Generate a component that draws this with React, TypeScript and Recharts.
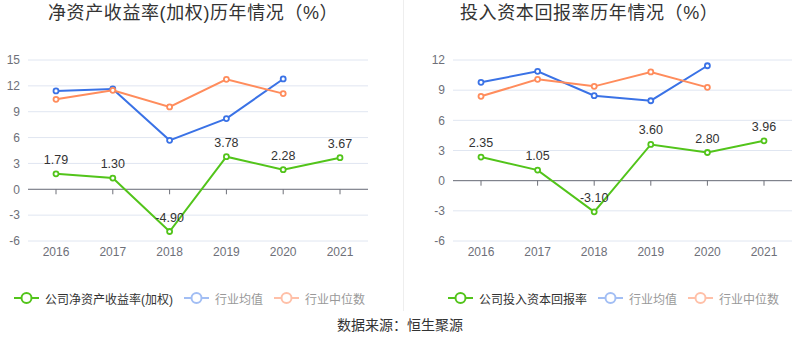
import React from "react"
import {
  LineChart,
  Line,
  XAxis,
  YAxis,
  CartesianGrid,
  ReferenceLine,
  LabelList,
} from "recharts"

const years = ["2016", "2017", "2018", "2019", "2020", "2021"]

// 净资产收益率(加权)
const roeCompany = [1.79, 1.3, -4.9, 3.78, 2.28, 3.67]
const roeMean = [11.41, 11.64, 5.68, 8.2, 12.8, null]
const roeMedian = [10.44, 11.48, 9.55, 12.76, 11.1, null]
const roeTicks = [-6, -3, 0, 3, 6, 9, 12, 15]

// 投入资本回报率
const roicCompany = [2.35, 1.05, -3.1, 3.6, 2.8, 3.96]
const roicMean = [9.78, 10.87, 8.45, 7.95, 11.43, null]
const roicMedian = [8.39, 10.08, 9.38, 10.81, 9.28, null]
const roicTicks = [-6, -3, 0, 3, 6, 9, 12]

const GREEN = "#52c41a"
const BLUE = "#3a72e6"
const ORANGE = "#ff8c5c"
const AXIS = "#6e7079"
const FONT = '"Liberation Sans", Arial, "Noto Sans CJK SC", sans-serif'

function buildRows(company: number[], mean: (number | null)[], median: (number | null)[]) {
  return years.map((year, i) => ({
    year,
    company: company[i],
    mean: mean[i],
    median: median[i],
  }))
}

interface LegendItem {
  label: string
  color: string
  textColor: string
}

function LegendRow({ items, left }: { items: LegendItem[]; left: number }) {
  return (
    <div
      style={{
        position: "absolute",
        left,
        top: 290,
        display: "flex",
        alignItems: "center",
        fontSize: 12,
        height: 16,
      }}
    >
      {items.map((it) => (
        <div key={it.label} style={{ display: "flex", alignItems: "center", marginRight: 11 }}>
          <svg width={25} height={14} style={{ marginRight: 6 }}>
            <line x1={0} y1={7} x2={25} y2={7} stroke={it.color} strokeWidth={2} />
            <circle cx={12.5} cy={7} r={5} fill="#fff" stroke={it.color} strokeWidth={2} />
          </svg>
          <span style={{ color: it.textColor, whiteSpace: "nowrap" }}>{it.label}</span>
        </div>
      ))}
    </div>
  )
}

interface PanelProps {
  rows: ReturnType<typeof buildRows>
  ticks: number[]
  left: number
  marginLeft: number
  marginRight: number
  tickLen: number
}

function Panel({ rows, ticks, left, marginLeft, marginRight, tickLen }: PanelProps) {
  const dot = { r: 2.5, fill: "#fff", strokeWidth: 1.8 }
  return (
    <div style={{ position: "absolute", left, top: 0 }}>
      <LineChart
        width={400}
        height={270}
        data={rows}
        margin={{ top: 60, right: marginRight, left: marginLeft, bottom: 0 }}
      >
        <CartesianGrid horizontal vertical={false} stroke="#e0e6f1" />
        <XAxis
          dataKey="year"
          height={29}
          padding={{ left: 28, right: 28 }}
          axisLine={false}
          tickLine={false}
          tickMargin={0}
          tick={{ fill: AXIS, fontSize: 12 }}
        />
        <YAxis
          width={20}
          domain={[ticks[0], ticks[ticks.length - 1]]}
          ticks={ticks}
          axisLine={false}
          tickLine={false}
          tick={{ fill: AXIS, fontSize: 12 }}
        />
        <ReferenceLine y={0} stroke={AXIS} strokeWidth={1} />
        {years.map((y) => (
          <ReferenceLine
            key={y}
            segment={[
              { x: y, y: 0 },
              { x: y, y: -tickLen },
            ]}
            stroke={AXIS}
          />
        ))}
        <Line
          type="linear"
          dataKey="company"
          stroke={GREEN}
          strokeWidth={2}
          dot={dot}
          activeDot={false}
          isAnimationActive={false}
        >
          <LabelList
            dataKey="company"
            position="top"
            offset={10}
            fill="#333"
            fontSize={12.5}
            formatter={(v: number) => v.toFixed(2)}
          />
        </Line>
        <Line
          type="linear"
          dataKey="mean"
          stroke={BLUE}
          strokeWidth={2}
          dot={dot}
          activeDot={false}
          isAnimationActive={false}
        />
        <Line
          type="linear"
          dataKey="median"
          stroke={ORANGE}
          strokeWidth={2}
          dot={dot}
          activeDot={false}
          isAnimationActive={false}
        />
      </LineChart>
    </div>
  )
}

export default function App() {
  const roeRows = buildRows(roeCompany, roeMean, roeMedian)
  const roicRows = buildRows(roicCompany, roicMean, roicMedian)
  const titleStyle: React.CSSProperties = {
    position: "absolute",
    top: 2,
    fontSize: 18,
    lineHeight: "22px",
    letterSpacing: 0.6,
    color: "#333",
    whiteSpace: "nowrap",
  }

  return (
    <div
      style={{
        position: "absolute",
        left: 0,
        top: 0,
        width: 800,
        height: 358,
        background: "#fff",
        fontFamily: FONT,
        overflow: "hidden",
      }}
    >
      <div style={{ ...titleStyle, left: 48 }}>净资产收益率(加权)历年情况（%）</div>
      <div style={{ ...titleStyle, left: 460 }}>投入资本回报率历年情况（%）</div>

      <Panel rows={roeRows} ticks={roeTicks} left={0} marginLeft={8} marginRight={32} tickLen={0.58} />
      <Panel rows={roicRows} ticks={roicTicks} left={400} marginLeft={33} marginRight={8} tickLen={0.5} />

      <div
        style={{ position: "absolute", left: 403, top: 0, width: 1, height: 311, background: "#eee" }}
      />

      <LegendRow
        left={14}
        items={[
          { label: "公司净资产收益率(加权)", color: GREEN, textColor: "#333" },
          { label: "行业均值", color: "#a2bef4", textColor: "#999" },
          { label: "行业中位数", color: "#ffc0a8", textColor: "#999" },
        ]}
      />
      <LegendRow
        left={448}
        items={[
          { label: "公司投入资本回报率", color: GREEN, textColor: "#333" },
          { label: "行业均值", color: "#a2bef4", textColor: "#999" },
          { label: "行业中位数", color: "#ffc0a8", textColor: "#999" },
        ]}
      />

      <div
        style={{
          position: "absolute",
          left: 0,
          width: 800,
          top: 316,
          textAlign: "center",
          fontSize: 14,
          lineHeight: "18px",
          color: "#333",
        }}
      >
        数据来源：恒生聚源
      </div>
    </div>
  )
}
